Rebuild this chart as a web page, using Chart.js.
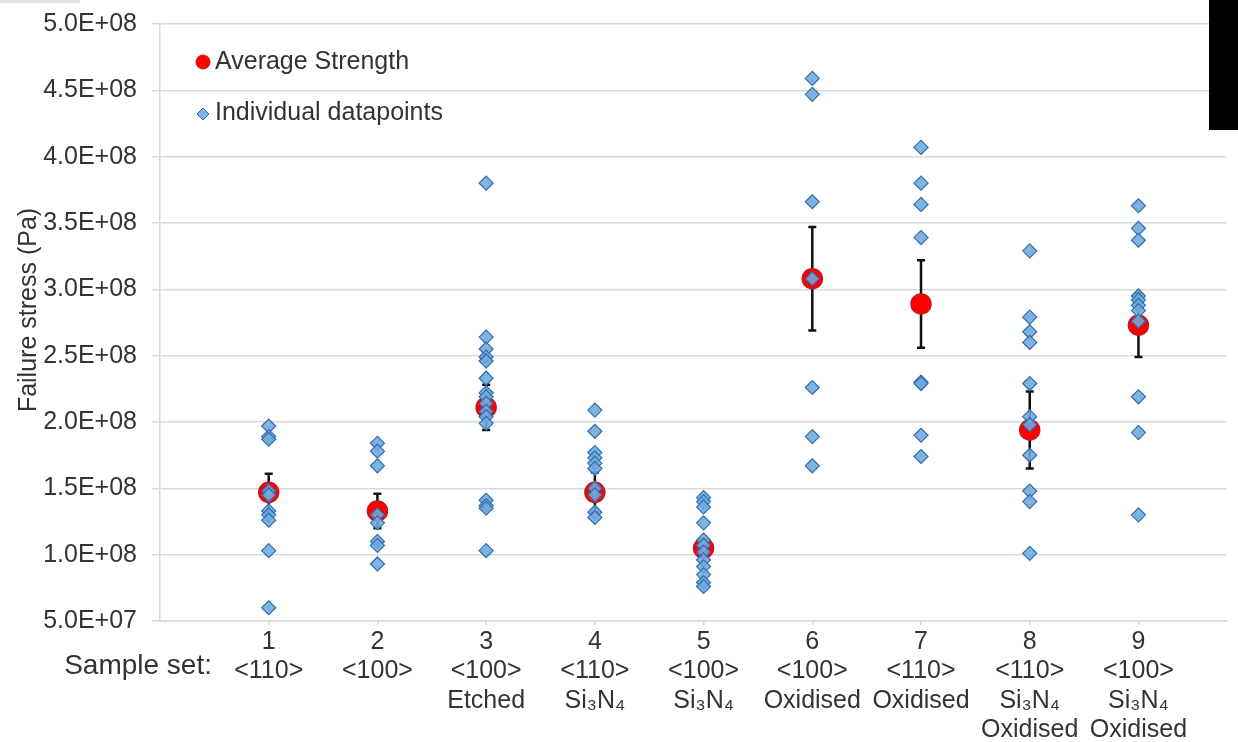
<!DOCTYPE html>
<html>
<head>
<meta charset="utf-8">
<title>Failure stress by sample set</title>
<script src="https://cdn.jsdelivr.net/npm/chart.js@4.4.1/dist/chart.umd.min.js"></script>
<style>
  html, body { margin: 0; padding: 0; background: #fff; }
  #wrap { width: 1238px; height: 742px; position: relative; }
</style>
</head>
<body>
<div id="wrap"><canvas id="stressChart" width="1238" height="742"></canvas></div>
<script>
var sampleSets = [1, 2, 3, 4, 5, 6, 7, 8, 9];
var setLabels = [
  ['1', '<110>'],
  ['2', '<100>'],
  ['3', '<100>', 'Etched'],
  ['4', '<110>', 'Si\u2083N\u2084'],
  ['5', '<100>', 'Si\u2083N\u2084'],
  ['6', '<100>', 'Oxidised'],
  ['7', '<110>', 'Oxidised'],
  ['8', '<110>', 'Si\u2083N\u2084', 'Oxidised'],
  ['9', '<100>', 'Si\u2083N\u2084', 'Oxidised']
];

// average strength and error bar half-width per sample set (Pa)
var avgStrength = [1.47e8, 1.33e8, 2.11e8, 1.47e8, 1.05e8, 3.08e8, 2.89e8, 1.94e8, 2.73e8];
var errStrength = [0.14e8, 0.13e8, 0.17e8, 0.15e8, 0.05e8, 0.39e8, 0.33e8, 0.29e8, 0.24e8];

// individual datapoints per sample set (Pa)
var set1 = [1.97e8, 1.89e8, 1.87e8, 1.48e8, 1.45e8, 1.33e8, 1.30e8, 1.26e8, 1.03e8, 0.60e8];
var set2 = [1.84e8, 1.78e8, 1.67e8, 1.30e8, 1.24e8, 1.10e8, 1.07e8, 0.93e8];
var set3 = [3.80e8, 2.64e8, 2.55e8, 2.49e8, 2.46e8, 2.33e8, 2.22e8, 2.19e8, 2.14e8, 2.08e8, 2.04e8, 1.99e8, 1.41e8, 1.37e8, 1.35e8, 1.03e8];
var set4 = [2.09e8, 1.93e8, 1.77e8, 1.73e8, 1.69e8, 1.65e8, 1.50e8, 1.45e8, 1.32e8, 1.28e8];
var set5 = [1.43e8, 1.40e8, 1.36e8, 1.24e8, 1.11e8, 1.07e8, 1.02e8, 0.96e8, 0.91e8, 0.85e8, 0.79e8, 0.76e8];
var set6 = [4.59e8, 4.47e8, 3.66e8, 3.08e8, 2.26e8, 1.89e8, 1.67e8];
var set7 = [4.07e8, 3.80e8, 3.64e8, 3.39e8, 2.30e8, 2.29e8, 1.90e8, 1.74e8];
var set8 = [3.29e8, 2.79e8, 2.68e8, 2.60e8, 2.29e8, 2.04e8, 1.98e8, 1.75e8, 1.48e8, 1.40e8, 1.01e8];
var set9 = [3.63e8, 3.46e8, 3.37e8, 2.95e8, 2.92e8, 2.88e8, 2.84e8, 2.76e8, 2.19e8, 1.92e8, 1.30e8];
var individualSets = [set1, set2, set3, set4, set5, set6, set7, set8, set9];

var yMin = 5e7, yMax = 5e8, yStep = 5e7;

var fontFamily = "'Liberation Sans', Arial, Helvetica, sans-serif";
var textColor = '#333333';
var gridColor = '#d9d9d9';
var diamondFill = 'rgba(112, 168, 220, 0.88)';
var diamondBorder = '#2f6eb0';

function sciLabel(v) {
  var parts = Number(v).toExponential(1).split('e');
  var exp = parts[1];
  var sign = exp.charAt(0) === '-' ? '-' : '+';
  var digits = exp.replace('+', '').replace('-', '');
  if (digits.length < 2) digits = '0' + digits;
  return parts[0] + 'E' + sign + digits;
}

// build the point lists from the arrays above
var individualData = [];
var averageData = [];
var errorData = [];
for (var i = 0; i < sampleSets.length; i++) {
  var s = individualSets[i];
  for (var j = 0; j < s.length; j++) {
    individualData.push({ x: sampleSets[i], y: s[j] });
  }
  averageData.push({ x: sampleSets[i], y: avgStrength[i] });
  errorData.push({ x: sampleSets[i], y: avgStrength[i] - errStrength[i] });
  errorData.push({ x: sampleSets[i], y: avgStrength[i] + errStrength[i] });
  errorData.push({ x: sampleSets[i], y: null });
}

var decorations = {
  id: 'decorations',
  afterDraw: function (chart) {
    var ctx = chart.ctx;
    ctx.save();

    // legend inside the plot
    ctx.beginPath();
    ctx.arc(203, 62, 7, 0, Math.PI * 2);
    ctx.fillStyle = '#ff0000';
    ctx.fill();
    ctx.lineWidth = 1;
    ctx.strokeStyle = '#c4161c';
    ctx.stroke();

    ctx.beginPath();
    ctx.moveTo(197, 114);
    ctx.lineTo(203, 108);
    ctx.lineTo(209, 114);
    ctx.lineTo(203, 120);
    ctx.closePath();
    ctx.fillStyle = diamondFill;
    ctx.fill();
    ctx.strokeStyle = diamondBorder;
    ctx.stroke();

    ctx.fillStyle = textColor;
    ctx.font = '25px ' + fontFamily;
    ctx.textAlign = 'left';
    ctx.textBaseline = 'middle';
    ctx.fillText('Average Strength', 215, 62);
    ctx.fillText('Individual datapoints', 215, 113);

    // y axis title
    ctx.save();
    ctx.translate(29, 310);
    ctx.rotate(-Math.PI / 2);
    ctx.textAlign = 'center';
    ctx.fillText('Failure stress (Pa)', 0, 0);
    ctx.restore();

    // row heading for the x labels
    ctx.font = '28px ' + fontFamily;
    ctx.textAlign = 'right';
    ctx.fillText('Sample set:', 212, 666);
    ctx.restore();

    // dark block at the top right of the scan
    ctx.save();
    ctx.fillStyle = '#000';
    ctx.fillRect(1209, 0, 29, 130);
    ctx.fillStyle = '#e3e3e3';
    ctx.fillRect(0, 0, 80, 3);
    ctx.restore();
  }
};

new Chart(document.getElementById('stressChart'), {
  type: 'scatter',
  data: {
    datasets: [{
      label: 'Individual datapoints',
      data: individualData,
      pointStyle: 'rectRot',
      pointRadius: 7,
      pointBorderWidth: 1.2,
      backgroundColor: diamondFill,
      borderColor: diamondBorder
    }, {
      label: 'Average Strength',
      data: averageData,
      pointStyle: 'circle',
      pointRadius: 10,
      pointBorderWidth: 1.5,
      backgroundColor: '#ff0000',
      borderColor: '#c4161c'
    }, {
      label: 'Error',
      data: errorData,
      showLine: true,
      spanGaps: false,
      borderColor: '#111',
      borderWidth: 2.5,
      pointStyle: 'line',
      pointRadius: 4,
      pointBorderWidth: 2.5,
      pointBorderColor: '#111'
    }]
  },
  options: {
    responsive: false,
    animation: false,
    layout: { padding: { top: 24, left: 0, right: 0, bottom: 0 } },
    plugins: {
      legend: { display: false },
      tooltip: { enabled: false }
    },
    scales: {
      x: {
        type: 'linear',
        min: 0,
        max: 9.81,
        afterBuildTicks: function (axis) {
          axis.ticks = sampleSets.map(function (v) { return { value: v }; });
        },
        afterFit: function (axis) { axis.height = 121; },
        ticks: {
          autoSkip: false,
          maxRotation: 0,
          padding: 2,
          color: textColor,
          font: { family: fontFamily, size: 25, lineHeight: 1.18 },
          callback: function (value, index) { return setLabels[index]; }
        },
        grid: {
          drawOnChartArea: false,
          drawTicks: true,
          tickLength: 4,
          color: gridColor,
          lineWidth: 1.5
        },
        border: { display: true, color: gridColor, width: 1.5 }
      },
      y: {
        min: yMin,
        max: yMax,
        afterFit: function (axis) {
          axis.width = 160;
          axis.paddingTop = 0;
          axis.paddingBottom = 0;
        },
        ticks: {
          stepSize: yStep,
          padding: 15,
          color: textColor,
          font: { family: fontFamily, size: 25 },
          callback: function (v) { return sciLabel(v); }
        },
        grid: {
          color: gridColor,
          lineWidth: 1.5,
          tickLength: 8
        },
        border: { display: true, color: gridColor, width: 1.5 }
      }
    }
  },
  plugins: [decorations]
});
</script>
</body>
</html>
